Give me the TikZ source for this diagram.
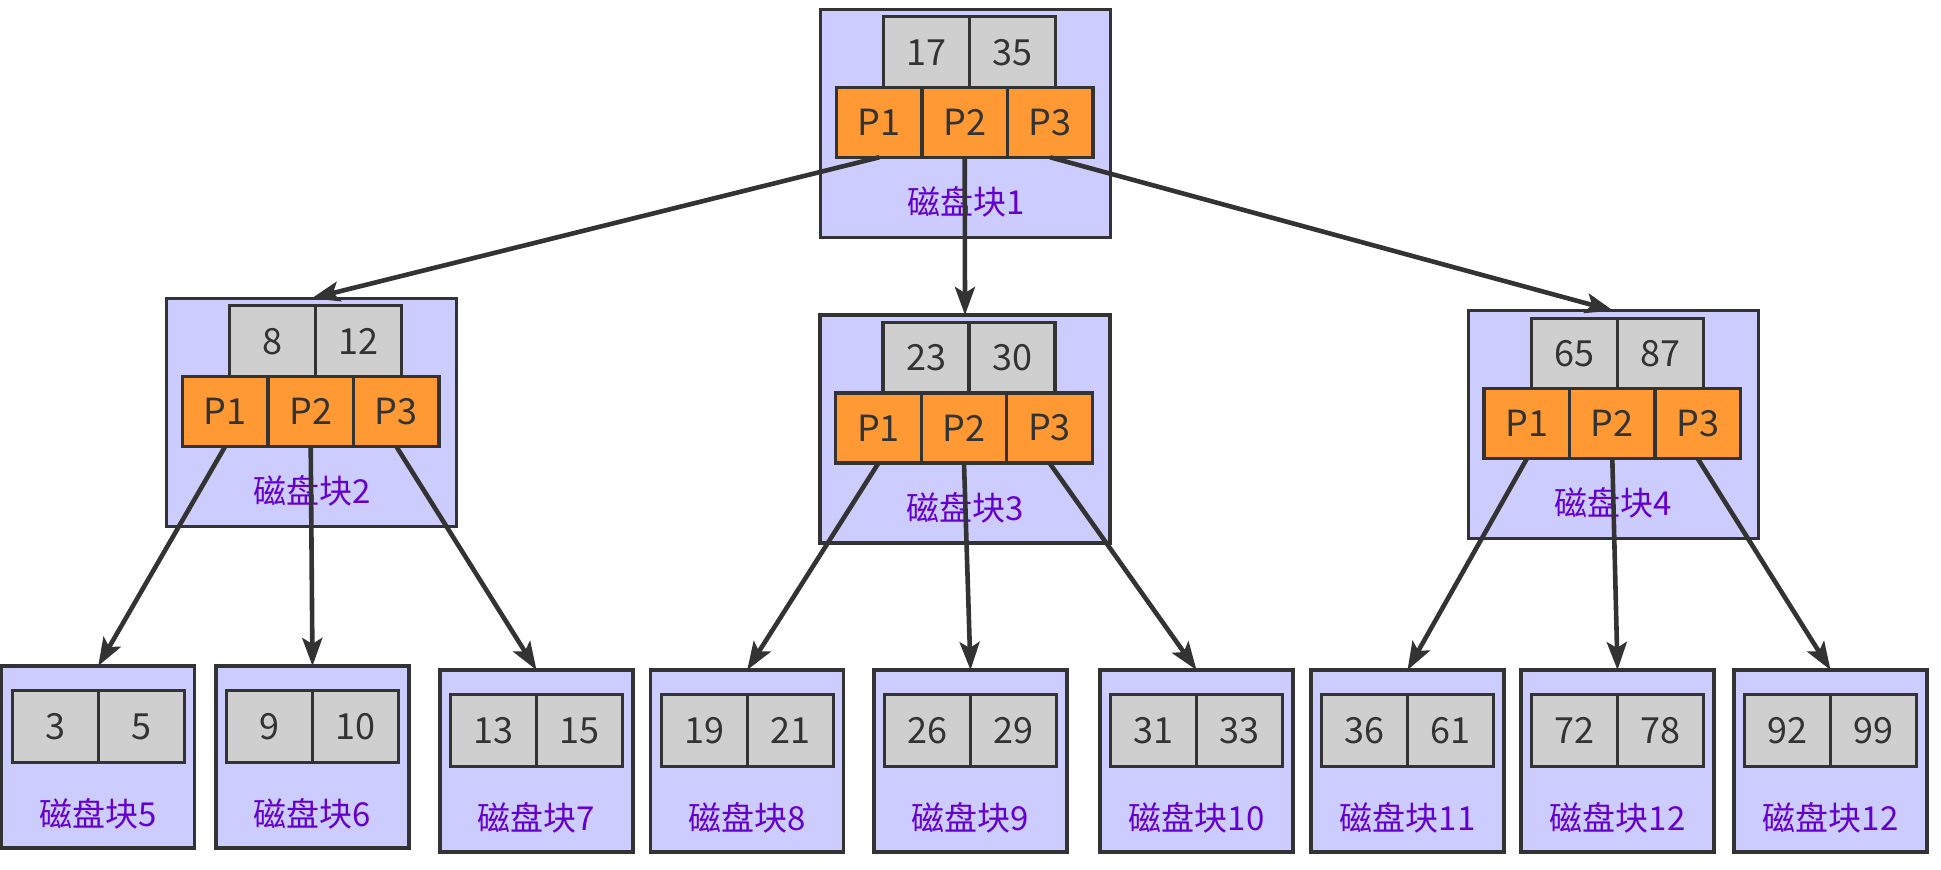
\documentclass[tikz,border=0pt]{standalone}
\usepackage{fontspec}
\setmainfont{Noto Sans CJK SC}
\usetikzlibrary{arrows.meta,calc}
\definecolor{lineC}{HTML}{333333}
\definecolor{blockC}{HTML}{CCCCFF}
\definecolor{keyC}{HTML}{CFCFCF}
\definecolor{ptrC}{HTML}{FF9933}
\definecolor{labC}{HTML}{6600CC}
\newcommand\pxu{0.5pt}
\tikzset{
  outerbox/.style={draw=lineC, fill=blockC, line width=1.6pt, inner sep=0pt, outer sep=0pt},
  keybox/.style={draw=lineC, fill=keyC, line width=1.6pt, inner sep=0pt, outer sep=0pt,
    minimum width=86*\pxu, minimum height=71*\pxu, text=lineC, font=\fontsize{18pt}{21pt}\selectfont},
  ptrbox/.style={draw=lineC, fill=ptrC, line width=1.6pt, inner sep=0pt, outer sep=0pt,
    minimum width=85.5*\pxu, minimum height=70*\pxu, text=lineC, font=\fontsize{18pt}{21pt}\selectfont},
  blocklabel/.style={text=labC, inner sep=0pt, font=\fontsize{16.5pt}{19pt}\selectfont},
  link/.style={draw=lineC, line width=2.3pt, -{Stealth[length=14pt,width=10pt,inset=3pt]}}
}
% internal block: name, left, top, key1, key2, label
\newcommand\inblock[6]{%
  \node[outerbox, anchor=north west, minimum width=290*\pxu, minimum height=228*\pxu] (#1) at (#2,#3) {};
  \coordinate (#1kc) at ($(#1.north)+(4,7.5)$);
  \node[keybox, anchor=north east] (#1k1) at (#1kc) {#4};
  \node[keybox, anchor=north west] (#1k2) at (#1kc) {#5};
  \node[ptrbox, anchor=north] (#1p2) at ($(#1.north)+(-1,78)$) {P2};
  \node[ptrbox, anchor=north east] (#1p1) at (#1p2.north west) {P1};
  \node[ptrbox, anchor=north west] (#1p3) at (#1p2.north east) {P3};
  \node[blocklabel] (#1lab) at ($(#1.north)+(0,192.5)$) {#6};
}
% leaf block: name, left, top, key1, key2, label
\newcommand\leafblock[6]{%
  \node[outerbox, anchor=north west, minimum width=193*\pxu, minimum height=182*\pxu] (#1) at (#2,#3) {};
  \coordinate (#1kc) at ($(#1.north)+(0,24.5)$);
  \node[keybox, anchor=north east, minimum height=72*\pxu] (#1k1) at (#1kc) {#4};
  \node[keybox, anchor=north west, minimum height=72*\pxu] (#1k2) at (#1kc) {#5};
  \node[blocklabel] (#1lab) at ($(#1.north)+(0,147.5)$) {#6};
}
\begin{document}
\begin{tikzpicture}[x=0.5pt,y=-0.5pt]
\useasboundingbox (0,0) rectangle (1941,869);
\inblock{r}{820.7}{9.3}{17}{35}{磁盘块1}
\inblock{b2}{166.7}{298.3}{8}{12}{磁盘块2}
\inblock{b3}{820}{315}{23}{30}{磁盘块3}
\inblock{b4}{1468.3}{310.7}{65}{87}{磁盘块4}
\leafblock{l5}{1.7}{666}{3}{5}{磁盘块5}
\leafblock{l6}{216}{666}{9}{10}{磁盘块6}
\leafblock{l7}{440}{670}{13}{15}{磁盘块7}
\leafblock{l8}{650.7}{670}{19}{21}{磁盘块8}
\leafblock{l9}{874}{670}{26}{29}{磁盘块9}
\leafblock{l10}{1100}{670}{31}{33}{磁盘块10}
\leafblock{l11}{1311}{670}{36}{61}{磁盘块11}
\leafblock{l12}{1521}{670}{72}{78}{磁盘块12}
\leafblock{l13}{1734}{670}{92}{99}{磁盘块12}
\draw[link] (rp1.south) -- (b2.north);
\draw[link] (rp2.south) -- (b3.north);
\draw[link] (rp3.south) -- (b4.north);
\draw[link] (b2p1.south) -- (l5.north);
\draw[link] (b2p2.south) -- (l6.north);
\draw[link] (b2p3.south) -- (l7.north);
\draw[link] (b3p1.south) -- (l8.north);
\draw[link] (b3p2.south) -- (l9.north);
\draw[link] (b3p3.south) -- (l10.north);
\draw[link] (b4p1.south) -- (l11.north);
\draw[link] (b4p2.south) -- (l12.north);
\draw[link] (b4p3.south) -- (l13.north);
\end{tikzpicture}
\end{document}
